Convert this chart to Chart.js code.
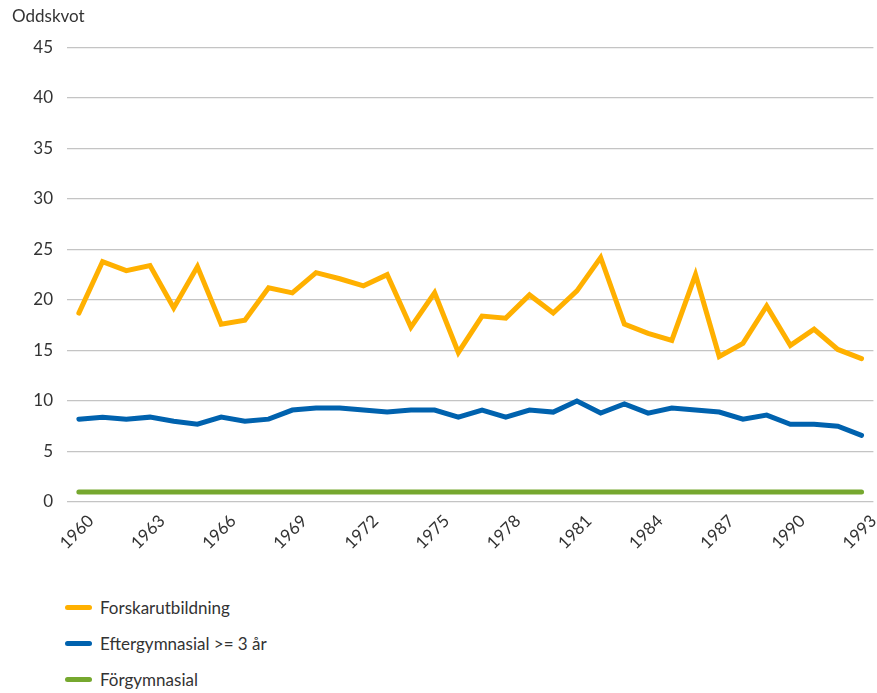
<!DOCTYPE html>
<html lang="sv">
<head>
<meta charset="utf-8">
<script src="https://cdn.jsdelivr.net/npm/chart.js@4"></script>
<style>
    body { margin: 0; background: #fff; font-family: Lato, "Open Sans", sans-serif; }
    #wrap { position: relative; width: 877px; height: 580px; }
    #legend { list-style: none; margin: 9px 0 0 0; padding: 0 0 0 65px; }
    #legend li { display: flex; align-items: center; height: 36px; font-size: 17px; color: #333; }
    #legend .sw { width: 27px; height: 5px; border-radius: 3px; margin-right: 8px; }
</style>
</head>
<body>
<div id="wrap"><canvas id="chart"></canvas></div>
<ul id="legend"></ul>
<script>
const years = [];
for (let y = 1960; y <= 1993; y++) years.push(String(y));

const forskarutbildning = [18.7, 23.8, 22.9, 23.4, 19.2, 23.3, 17.6, 18.0, 21.2, 20.7,
    22.7, 22.1, 21.4, 22.5, 17.3, 20.7, 14.8, 18.4, 18.2, 20.5,
    18.7, 20.9, 24.2, 17.6, 16.7, 16.0, 22.5, 14.4, 15.7, 19.4,
    15.5, 17.1, 15.1, 14.2];
const eftergymnasial = [8.2, 8.4, 8.2, 8.4, 8.0, 7.7, 8.4, 8.0, 8.2, 9.1,
    9.3, 9.3, 9.1, 8.9, 9.1, 9.1, 8.4, 9.1, 8.4, 9.1,
    8.9, 10.0, 8.8, 9.7, 8.8, 9.3, 9.1, 8.9, 8.2, 8.6,
    7.7, 7.7, 7.5, 6.6];
const forgymnasial = years.map(() => 1);

const seriesNames = ['Forskarutbildning', 'Eftergymnasial >= 3 år', 'Förgymnasial'];
const seriesColors = ['#ffb000', '#0062ae', '#76a82f'];
const seriesData = [forskarutbildning, eftergymnasial, forgymnasial];

const chart = new Chart(document.getElementById('chart'), {
    type: 'line',
    data: {
        labels: years,
        datasets: seriesData.map((d, i) => ({
            label: seriesNames[i],
            data: d,
            borderColor: seriesColors[i],
            backgroundColor: seriesColors[i],
            borderWidth: 5,
            pointRadius: 0,
            tension: 0,
            borderCapStyle: 'round',
            borderJoinStyle: 'miter'
        }))
    },
    options: {
        responsive: true,
        maintainAspectRatio: false,
        animation: false,
        layout: { padding: { left: 12, right: 2, top: 0, bottom: 0 } },
        plugins: {
            legend: { display: false },
            tooltip: { enabled: false },
            title: {
                display: true,
                text: 'Oddskvot',
                align: 'start',
                color: '#333',
                font: { family: 'Lato', size: 17, weight: 'normal' },
                padding: { top: 6, bottom: 21 }
            }
        },
        scales: {
            x: {
                offset: true,
                grid: { display: false },
                border: { display: false },
                afterFit: function(scale) { scale.height = 78; },
                ticks: {
                    autoSkip: false,
                    minRotation: 45,
                    maxRotation: 45,
                    labelOffset: 12,
                    padding: 1,
                    color: '#333',
                    font: { family: 'Lato', size: 17 },
                    callback: function(v, i) { return i % 3 === 0 ? this.getLabelForValue(v) : ''; }
                }
            },
            y: {
                min: 0,
                max: 45,
                afterFit: function(scale) { scale.width = 55; },
                ticks: { stepSize: 5, padding: 14, color: '#333', font: { family: 'Lato', size: 17 } },
                grid: { color: '#c4c4c4', lineWidth: 1.2, drawTicks: false },
                border: { display: false }
            }
        }
    }
});

// legenda som lista under grafen
const legend = document.getElementById('legend');
chart.data.datasets.forEach(ds => {
    const li = document.createElement('li');
    li.innerHTML = '<span class="sw" style="background:' + ds.borderColor + '"></span>' + ds.label;
    legend.appendChild(li);
});
</script>
</body>
</html>
